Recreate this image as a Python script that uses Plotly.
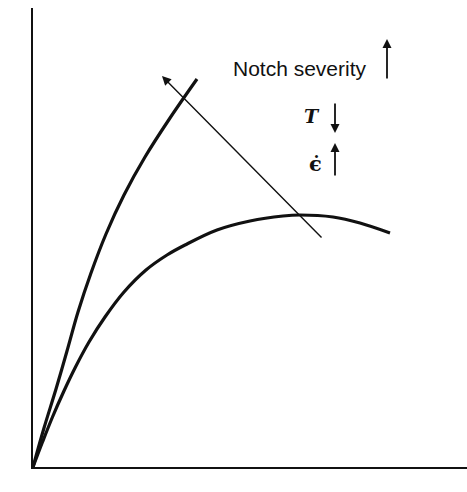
import plotly.graph_objects as go

# Stress-strain curves (arbitrary units, origin at lower-left corner)
STEEP_EPS = [0.0, 0.11, 0.23, 0.34, 0.45, 0.58, 0.73, 0.91, 1.12, 1.37, 1.64]
STEEP_SIG = [0.0, 0.39, 0.78, 1.16, 1.55, 1.94, 2.33, 2.72, 3.10, 3.49, 3.88]

DUCTILE_EPS = [0.0, 0.095, 0.195, 0.305, 0.425, 0.56, 0.72, 0.91, 1.13, 1.34,
               1.52, 1.84, 2.17, 2.50, 2.67, 3.00, 3.27, 3.57]
DUCTILE_SIG = [0.0, 0.25, 0.50, 0.75, 1.00, 1.25, 1.50, 1.75, 1.97, 2.12,
               2.22, 2.37, 2.46, 2.51, 2.52, 2.50, 2.44, 2.34]

# trend arrow (tail -> head)
TREND_FROM = (2.90, 2.28)
TREND_TO = (1.29, 3.91)

INK = "#111111"
SANS = "Liberation Sans, Arial, sans-serif"
SERIF = "DejaVu Serif, Liberation Serif, serif"

fig = go.Figure()
for xs, ys in [(STEEP_EPS, STEEP_SIG), (DUCTILE_EPS, DUCTILE_SIG)]:
    fig.add_trace(go.Scatter(
        x=xs, y=ys, mode="lines",
        line=dict(color=INK, width=3.2, shape="spline", smoothing=1.0),
        hoverinfo="skip", showlegend=False,
    ))


def arrow(x0, y0, x1, y1, width=1.4, size=1.0):
    fig.add_annotation(
        x=x1, y=y1, ax=x0, ay=y0, xref="x", yref="y", axref="x", ayref="y",
        text="", showarrow=True, arrowhead=2, arrowsize=size,
        arrowwidth=width, arrowcolor=INK,
    )


def label(x, y, text, size=16, family=SANS):
    fig.add_annotation(
        x=x, y=y, xref="x", yref="y", text=text, showarrow=False,
        font=dict(family=family, size=size, color=INK),
    )


arrow(*TREND_FROM, *TREND_TO, width=1.4, size=1.3)

label(2.67, 3.99, "Notch severity", size=21)
arrow(3.54, 3.87, 3.54, 4.28, width=1.8, size=1.0)

label(2.79, 3.51, "<i><b>T</b></i>", size=19, family=SERIF)
arrow(3.02, 3.65, 3.02, 3.34, width=1.8, size=1.0)

label(2.82, 3.04, "<b>\u03f5\u0307</b>", size=21, family=SERIF)
arrow(3.02, 2.90, 3.02, 3.24, width=1.8, size=1.0)

label(-0.18, 2.47, "<i>\u03c3</i>", size=18, family=SERIF)
label(2.39, -0.20, "<b>\u03f5</b>", size=18, family=SERIF)

axis_style = dict(
    showline=True, linecolor=INK, linewidth=2.2, showgrid=False,
    zeroline=False, showticklabels=False, ticks="", fixedrange=True,
)
fig.update_layout(
    width=467, height=492,
    margin=dict(l=33, r=0, t=8, b=25),
    plot_bgcolor="white", paper_bgcolor="white",
    xaxis=dict(range=[0, 4.34], **axis_style),
    yaxis=dict(range=[0, 4.59], **axis_style),
    showlegend=False,
)

# drop the browser's default 8px body margin so the figure sits at (0, 0)
fig.write_html("out.html", config={"displayModeBar": False},
               post_script="document.body.style.margin='0';")
